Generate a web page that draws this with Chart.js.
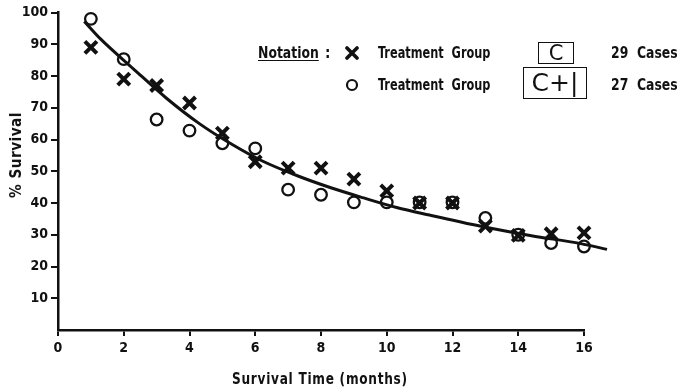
<!DOCTYPE html>
<html>
<head>
<meta charset="utf-8">
<script src="https://cdn.jsdelivr.net/npm/chart.js@4/dist/chart.umd.min.js"></script>
<style>
  body { margin: 0; background: #fff; }
  #wrap { position: relative; width: 683px; height: 392px; font-family: "DejaVu Sans Condensed", "DejaVu Sans", sans-serif; color: #111; }
  canvas { position: absolute; left: 0; top: 0; }
  .lbl { position: absolute; white-space: nowrap; font-size: 15px; font-weight: bold; line-height: 1; transform-origin: 0 0; }
  .box { position: absolute; border: 1.6px solid #111; box-sizing: border-box; font-family: "DejaVu Sans", sans-serif; font-weight: normal; color: #111; text-align: center; }
</style>
</head>
<body>
<div id="wrap">
  <canvas id="myChart" width="683" height="392"></canvas>

  <div class="lbl" style="top:155px; left:16px; transform-origin: 50% 50%; transform: translate(-50%, -50%) rotate(-90deg) scaleX(0.95); font-size:16px; letter-spacing:0.5px;">% Survival</div>
  <div class="lbl" style="left:232px; top:372px; transform: scaleX(0.9); letter-spacing:0.8px;">Survival Time (months)</div>

  <div class="lbl" style="left:258px; top:46px; transform: scaleX(0.92); text-decoration: underline; text-underline-offset: 2px;">Notation</div>
  <div class="lbl" style="left:325px; top:46px;">:</div>
  <svg style="position:absolute; left:345px; top:46px;" width="14" height="14"><path d="M2 2 L12 12 M12 2 L2 12" stroke="#111" stroke-width="3.6" stroke-linecap="round"/></svg>
  <div class="lbl" style="left:378px; top:46px; transform: scaleX(0.84);">Treatment&nbsp; Group</div>
  <div class="box" style="left:538px; top:42px; width:36px; height:22px; font-size:21px; line-height:20px;">C</div>
  <div class="lbl" style="left:611px; top:46px; transform: scaleX(0.92);">29&nbsp; Cases</div>

  <svg style="position:absolute; left:345px; top:78px;" width="14" height="14"><circle cx="7" cy="7" r="5" fill="none" stroke="#111" stroke-width="2.2"/></svg>
  <div class="lbl" style="left:378px; top:78px; transform: scaleX(0.84);">Treatment&nbsp; Group</div>
  <div class="box" style="left:523px; top:67px; width:64px; height:32px; font-size:25px; line-height:30px;">C+|</div>
  <div class="lbl" style="left:611px; top:78px; transform: scaleX(0.92);">27&nbsp; Cases</div>
</div>

<script>
// months
const months = [1, 2, 3, 4, 5, 6, 7, 8, 9, 10, 11, 12, 13, 14, 15, 16];
// Treatment group C (x markers), % survival
const groupC = [89, 79, 77, 71.5, 62, 53, 51, 51, 47.5, 43.8, 40, 40, 32.7, 29.8, 30.3, 30.6];
// Treatment group C+I (open circles), % survival
const groupCI = [98, 85.3, 66.3, 62.8, 58.8, 57.2, 44.2, 42.6, 40.2, 40.2, 40.2, 40.2, 35.3, 30, 27.4, 26.3];
// fitted curve
const curveX = [0.8, 1.3, 2.3, 3.3, 4.3, 5.3, 6.2, 7.3, 8.3, 9.3, 10.3, 11.3, 12.9, 14.4, 15.9, 16.7];
const curveY = [97.2, 91.6, 82.2, 73, 65, 58.4, 53.3, 48.5, 44.8, 41.6, 38.6, 36.2, 32.6, 29.7, 27.2, 25.4];

const yTicks = [10, 20, 30, 40, 50, 60, 70, 80, 90, 100];

const toPts = (xs, ys) => xs.map((x, i) => ({ x: x, y: ys[i] }));
const ink = '#111';
const tickFont = { family: '"DejaVu Sans Condensed", "DejaVu Sans", sans-serif', size: 14, weight: 'bold' };

new Chart(document.getElementById('myChart'), {
  type: 'scatter',
  data: {
    datasets: [
      {
        label: 'fit',
        data: toPts(curveX, curveY),
        showLine: true,
        borderColor: ink,
        borderWidth: 3,
        pointRadius: 0,
        cubicInterpolationMode: 'monotone',
        clip: false,
      },
      {
        label: 'Treatment Group C',
        data: toPts(months, groupC),
        pointStyle: 'crossRot',
        pointRadius: 8.5,
        borderColor: ink,
        borderWidth: 4,
        clip: false,
      },
      {
        label: 'Treatment Group C+I',
        data: toPts(months, groupCI),
        pointStyle: 'circle',
        pointRadius: 5.8,
        borderColor: ink,
        backgroundColor: 'rgba(0,0,0,0)',
        borderWidth: 2.3,
        clip: false,
      },
    ],
  },
  options: {
    responsive: false,
    animation: false,
    layout: { padding: { top: 11, right: 99, left: 0, bottom: 0 } },
    plugins: { legend: { display: false }, tooltip: { enabled: false } },
    scales: {
      x: {
        type: 'linear',
        min: 0,
        max: 16,
        afterFit: (scale) => { scale.height = 62; },
        ticks: { stepSize: 2, color: ink, font: tickFont, padding: 4, maxRotation: 0 },
        grid: { drawOnChartArea: false, drawTicks: true, tickLength: 6, color: ink, lineWidth: 2 },
        border: { color: ink, width: 2.5 },
      },
      y: {
        min: 0,
        max: 100,
        afterFit: (scale) => { scale.width = 58; },
        afterBuildTicks: (scale) => { scale.ticks = yTicks.map(v => ({ value: v })); },
        ticks: { color: ink, font: tickFont, padding: 3 },
        grid: { drawOnChartArea: false, drawTicks: true, tickLength: 7, color: ink, lineWidth: 2 },
        border: { color: ink, width: 2.5 },
      },
    },
  },
});
</script>
</body>
</html>
